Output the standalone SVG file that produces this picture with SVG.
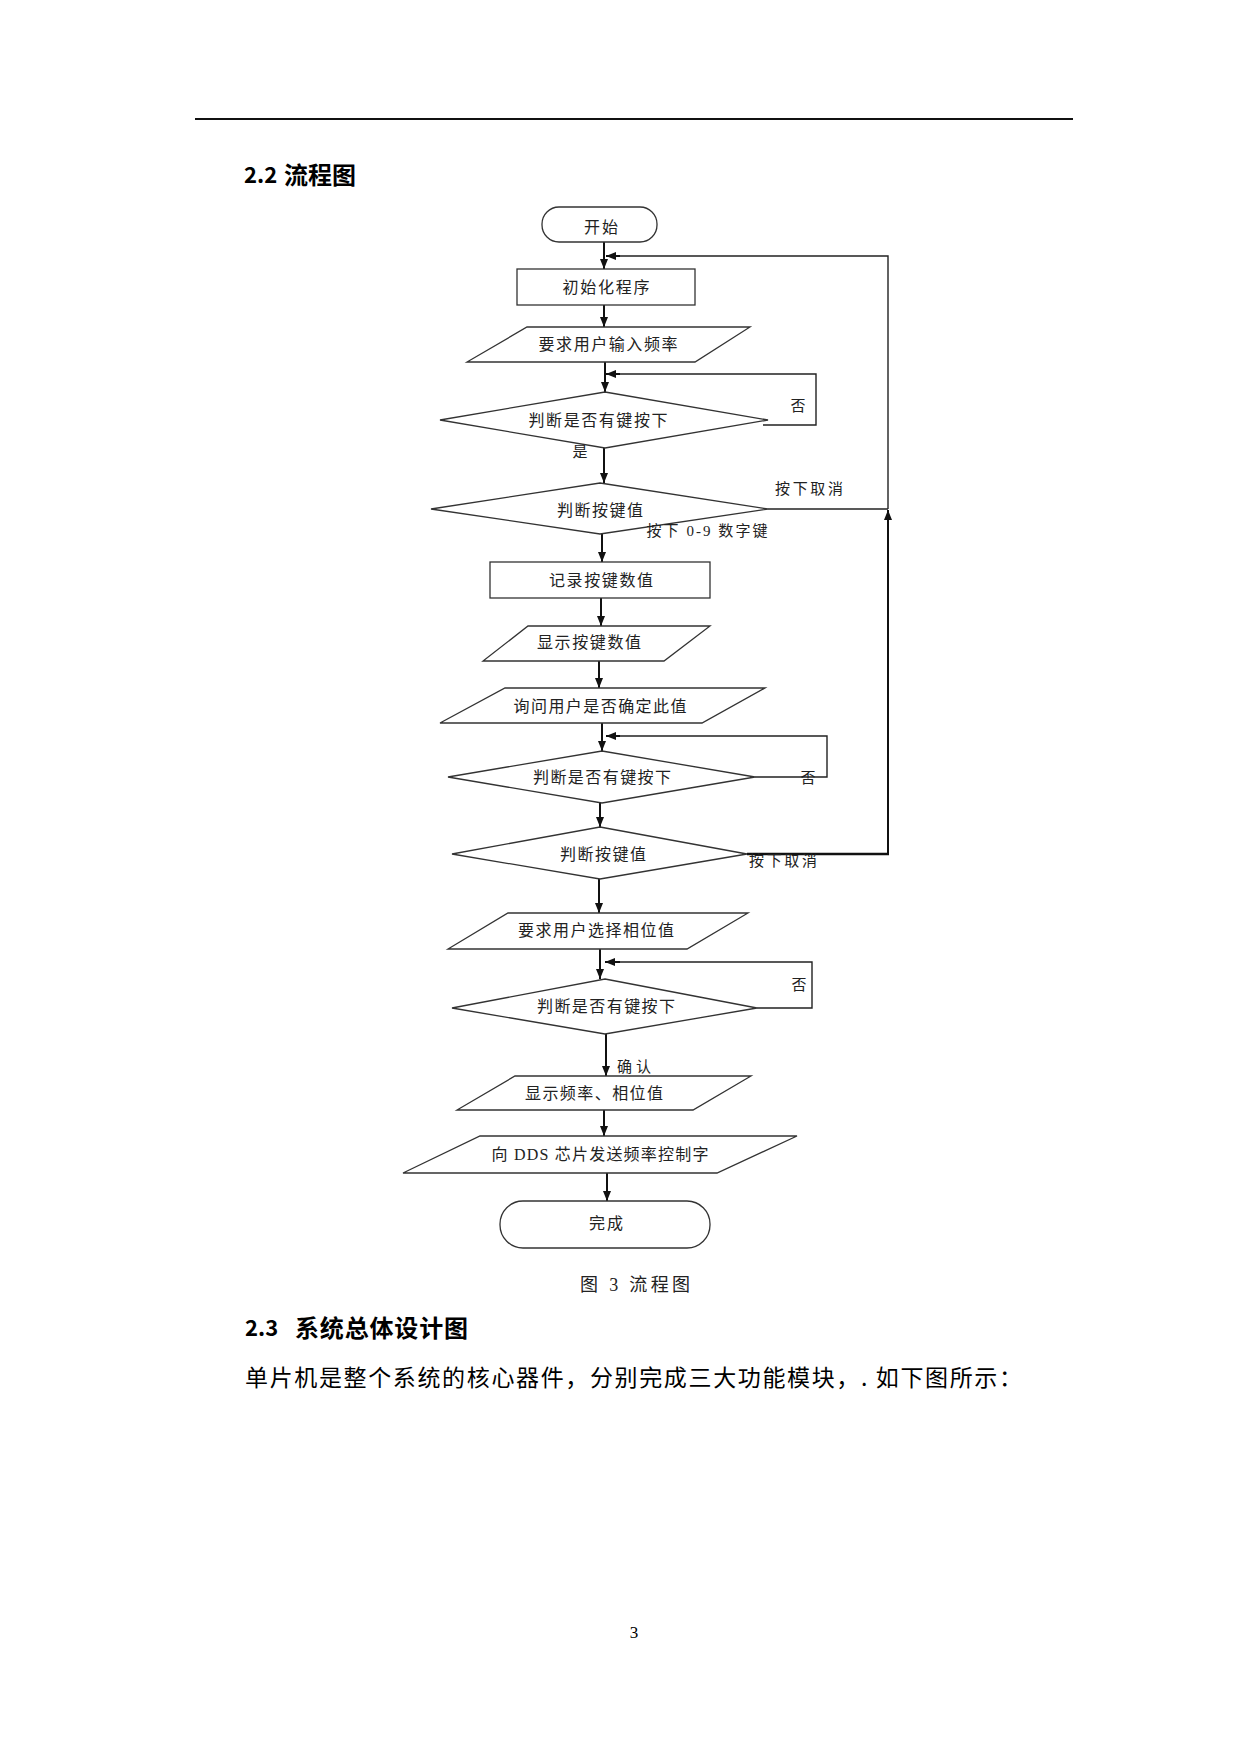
<svg xmlns="http://www.w3.org/2000/svg" width="1240" height="1754" viewBox="0 0 1240 1754">
<style>
.shape{fill:#fff;stroke:#333;stroke-width:1.3}
.t{font-family:"Liberation Serif","Noto Sans CJK SC",serif;font-size:16px;fill:#222;text-anchor:middle;dominant-baseline:central}
.lbl{font-family:"Liberation Serif","Noto Sans CJK SC",serif;font-size:15px;fill:#222;text-anchor:middle;dominant-baseline:central}
.c{fill:none;stroke:#222;stroke-width:1.4}
.ca{fill:none;stroke:#111;stroke-width:2;marker-end:url(#ah)}
.h{font-family:"Noto Sans CJK SC",sans-serif;font-weight:bold;font-size:22px;fill:#000}
.hc{font-family:"Noto Sans CJK SC",sans-serif;font-weight:bold;font-size:24px;fill:#000}
.p{font-family:"Noto Sans CJK SC",sans-serif;font-size:23px;fill:#000}
</style>
<defs>
<marker id="ah" viewBox="0 0 10 8" refX="10" refY="4" markerWidth="10" markerHeight="8" markerUnits="userSpaceOnUse" orient="auto">
<path d="M0,0 L10,4 L0,8 z" fill="#111"/>
</marker>
</defs>
<rect x="0" y="0" width="1240" height="1754" fill="#fff"/>
<line x1="195" y1="119" x2="1073" y2="119" stroke="#111" stroke-width="2.2"/>
<text class="h" x="244" y="183">2.2</text>
<text class="hc" x="284" y="184">流程图</text>

<g id="labels-under">
<text class="lbl" x="580" y="452">是</text>
</g>

<g id="connectors">
<line class="ca" x1="604" y1="242" x2="604" y2="269"/>
<polyline class="c" points="888,509 888,256 620,256"/>
<line class="ca" x1="620" y1="256" x2="606" y2="256"/>
<line class="ca" x1="604" y1="305" x2="604" y2="327"/>
<line class="ca" x1="605" y1="362" x2="605" y2="392"/>
<polyline class="c" points="763,425 816,425 816,374 620,374"/>
<line class="ca" x1="620" y1="374" x2="606" y2="374"/>
<line class="ca" x1="604" y1="448" x2="604" y2="483"/>
<line class="c" x1="768" y1="509" x2="888" y2="509"/>
<line class="ca" x1="888" y1="854" x2="888" y2="510"/>
<line class="ca" x1="602" y1="534" x2="602" y2="562"/>
<line class="ca" x1="601" y1="598" x2="601" y2="626"/>
<line class="ca" x1="599" y1="661" x2="599" y2="688"/>
<line class="ca" x1="602" y1="723" x2="602" y2="751"/>
<polyline class="c" points="755,777 827,777 827,736 620,736"/>
<line class="ca" x1="620" y1="736" x2="606" y2="736"/>
<line class="ca" x1="600" y1="803" x2="600" y2="827"/>
<line fill="none" stroke="#111" stroke-width="2.6" x1="747" y1="854" x2="889" y2="854"/>
<line class="ca" x1="599" y1="879" x2="599" y2="913"/>
<line class="ca" x1="600" y1="949" x2="600" y2="979"/>
<polyline class="c" points="757,1008 812,1008 812,962 620,962"/>
<line class="ca" x1="620" y1="962" x2="605" y2="962"/>
<line class="ca" x1="606" y1="1034" x2="606" y2="1076"/>
<line class="ca" x1="604" y1="1110" x2="604" y2="1136"/>
<line class="ca" x1="607" y1="1173" x2="607" y2="1201"/>
</g>

<g id="n-start"><rect class="shape" x="542" y="207" width="115" height="35" rx="17" ry="17"/><text class="t" x="601" y="227" textLength="34">开始</text></g>
<g id="n-init"><rect class="shape" x="517" y="269" width="178" height="36"/><text class="t" x="606" y="287" textLength="87">初始化程序</text></g>
<g id="n-input-freq"><polygon class="shape" points="527,327 750,327 695,362 467,362"/><text class="t" x="608" y="344" textLength="139">要求用户输入频率</text></g>
<g id="n-key1"><polygon class="shape" points="605,392 768,420 605,448 440,420"/><text class="t" x="598" y="420" textLength="139">判断是否有键按下</text></g>
<g id="n-keyval1"><polygon class="shape" points="600,483 768,509 600,534 431,509"/><text class="t" x="600" y="510" textLength="86">判断按键值</text></g>
<g id="n-record"><rect class="shape" x="490" y="562" width="220" height="36"/><text class="t" x="601" y="580" textLength="104">记录按键数值</text></g>
<g id="n-show"><polygon class="shape" points="528,626 710,626 664,661 483,661"/><text class="t" x="589" y="642" textLength="104">显示按键数值</text></g>
<g id="n-ask"><polygon class="shape" points="505,688 765,688 702,723 440,723"/><text class="t" x="600" y="706" textLength="173">询问用户是否确定此值</text></g>
<g id="n-key2"><polygon class="shape" points="602,751 755,777 602,803 448,777"/><text class="t" x="602" y="777" textLength="138">判断是否有键按下</text></g>
<g id="n-keyval2"><polygon class="shape" points="600,827 747,854 600,879 452,854"/><text class="t" x="603" y="854" textLength="86">判断按键值</text></g>
<g id="n-phase"><polygon class="shape" points="508,913 748,913 687,949 448,949"/><text class="t" x="596" y="930" textLength="156">要求用户选择相位值</text></g>
<g id="n-key3"><polygon class="shape" points="605,979 757,1008 605,1034 452,1008"/><text class="t" x="606" y="1006" textLength="138">判断是否有键按下</text></g>
<g id="n-display"><polygon class="shape" points="515,1076 751,1076 693,1110 457,1110"/><text class="t" x="594" y="1093" textLength="138">显示频率、相位值</text></g>
<g id="n-send"><polygon class="shape" points="480,1136 797,1136 717,1173 403,1173"/><text class="t" x="600" y="1154" textLength="217">向 DDS 芯片发送频率控制字</text></g>
<g id="n-end"><rect class="shape" x="500" y="1201" width="210" height="47" rx="23" ry="23"/><text class="t" x="606" y="1223" textLength="34">完成</text></g>

<g id="edge-labels">
<text class="lbl" x="798" y="406">否</text>
<text class="lbl" x="809" y="489" textLength="68">按下取消</text>
<text class="lbl" x="707" y="531" textLength="121">按下 0-9 数字键</text>
<text class="lbl" x="808" y="778">否</text>
<text class="lbl" x="783" y="861" textLength="68">按下取消</text>
<text class="lbl" x="799" y="985">否</text>
<text class="lbl" x="634" y="1067" textLength="34">确认</text>
</g>

<text class="t" x="635" y="1285" style="font-size:18px" textLength="110">图 3 流程图</text>
<text class="h" x="245" y="1336">2.3</text>
<text class="hc" x="295" y="1337" textLength="173" lengthAdjust="spacing">系统总体设计图</text>
<text class="p" x="245" y="1386" textLength="777" lengthAdjust="spacing">单片机是整个系统的核心器件，分别完成三大功能模块，. 如下图所示：</text>
<text x="634" y="1638" style="font-family:'Liberation Serif',serif;font-size:17px;fill:#000;text-anchor:middle">3</text>
</svg>
